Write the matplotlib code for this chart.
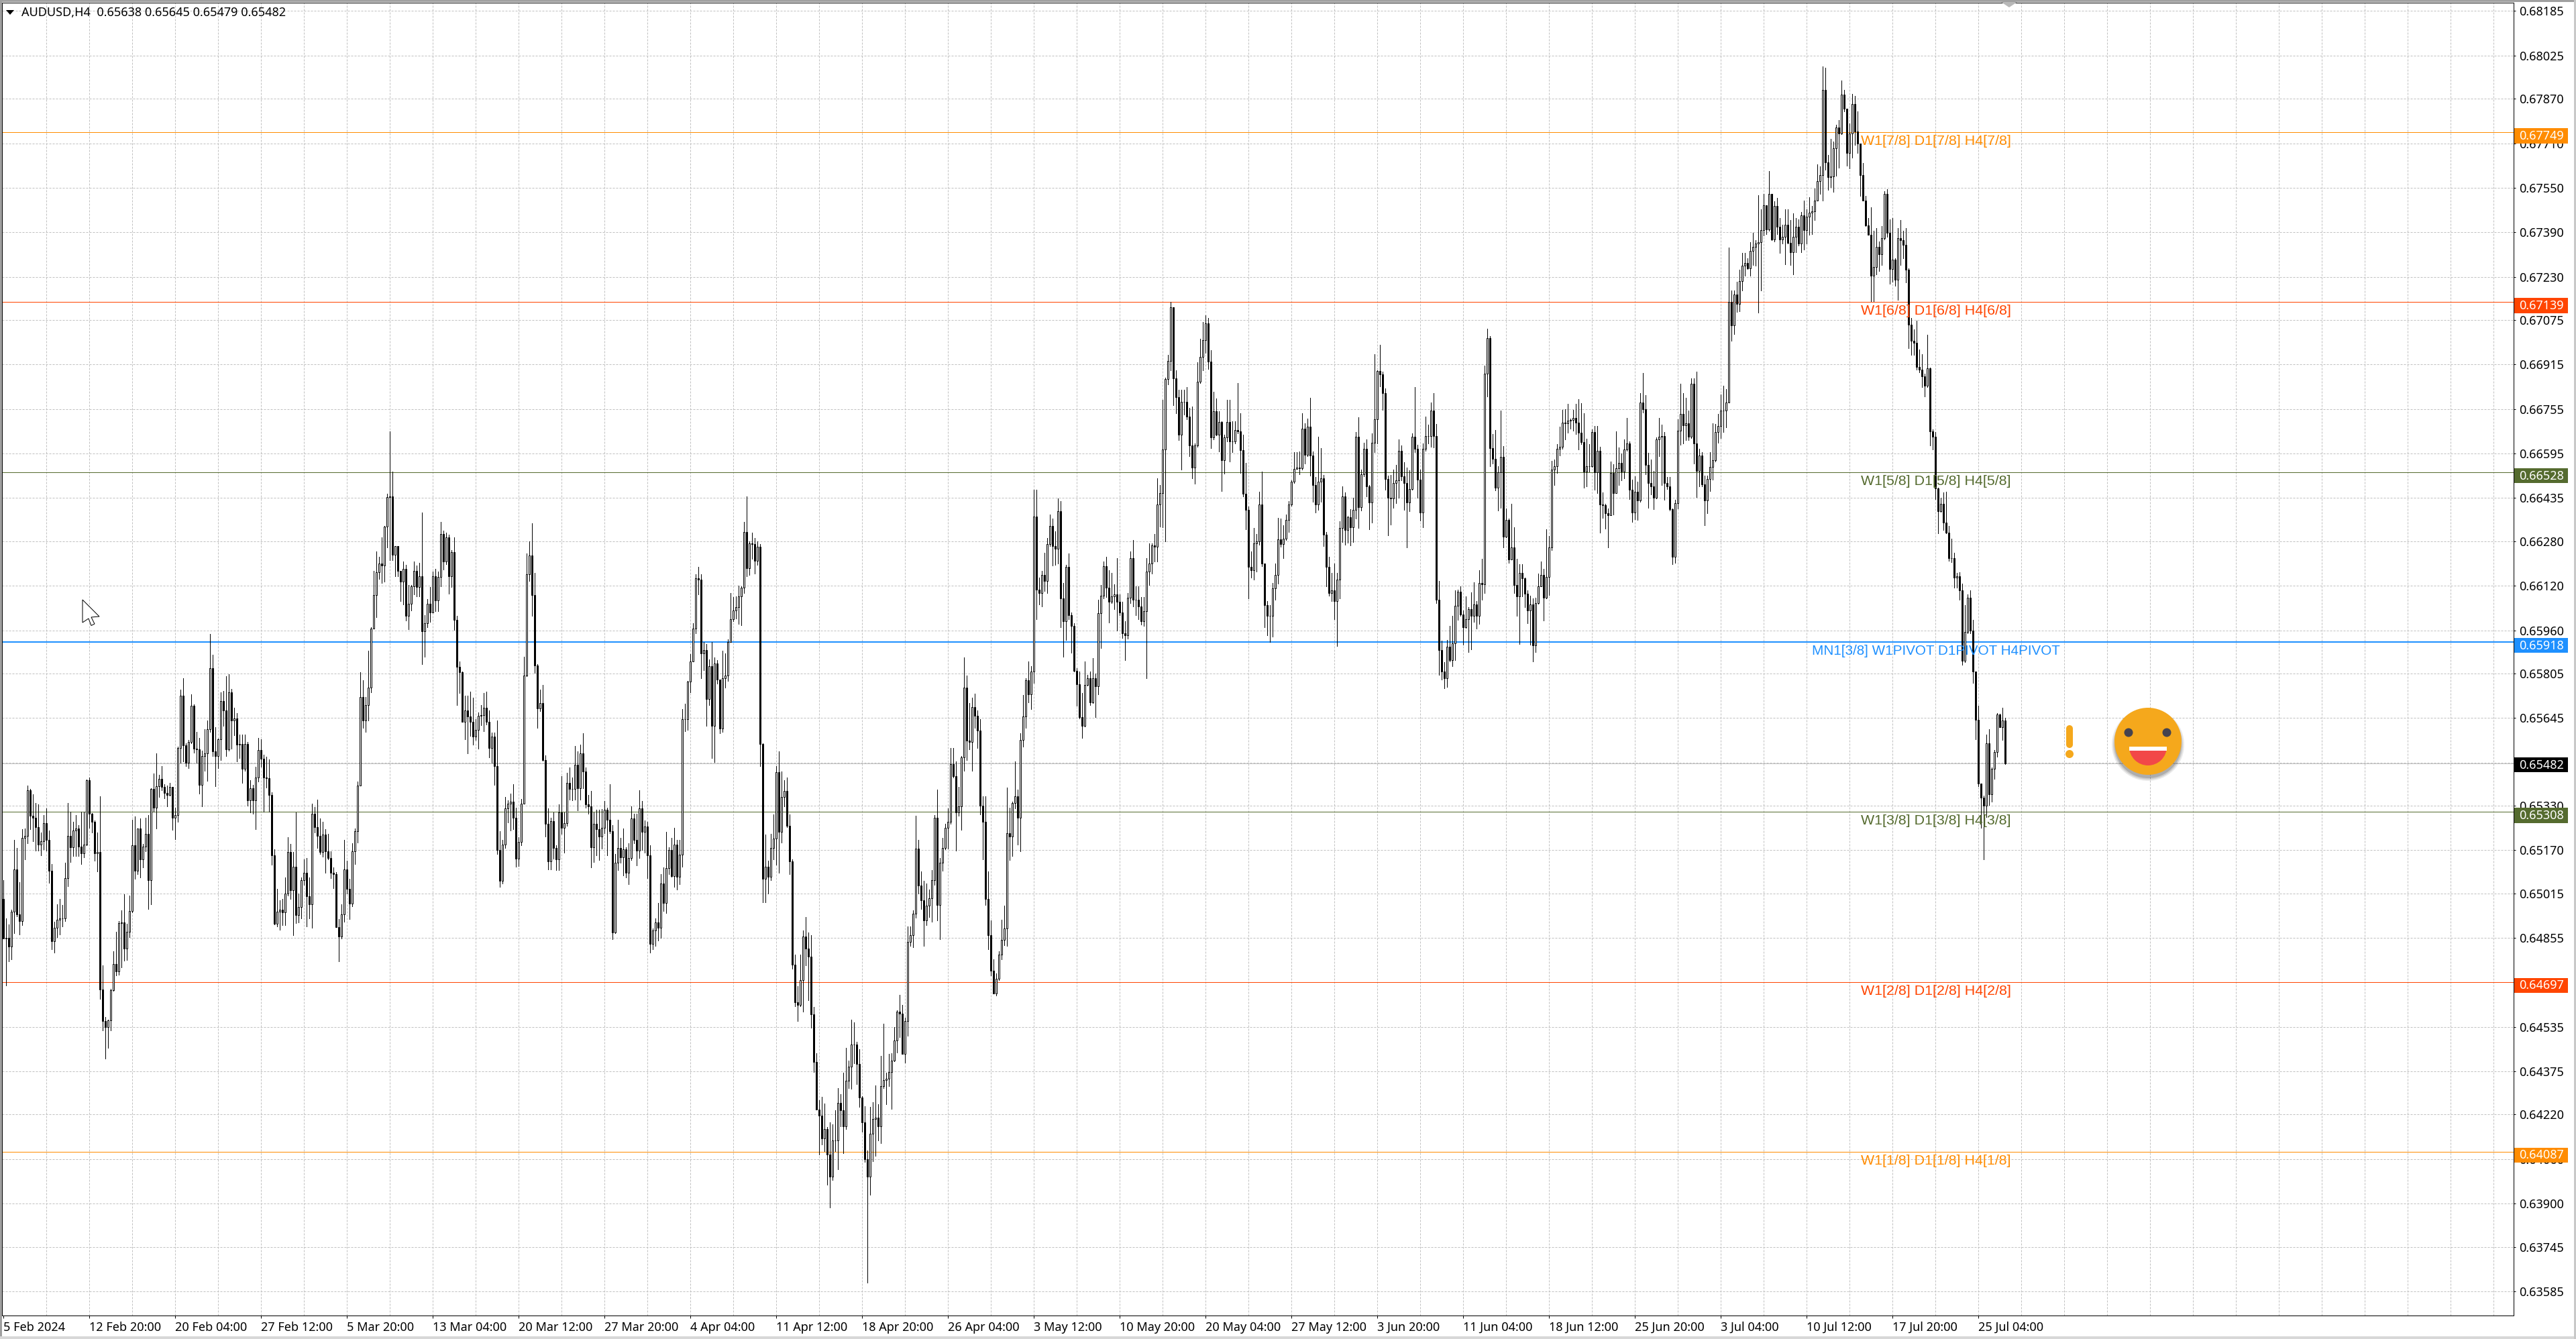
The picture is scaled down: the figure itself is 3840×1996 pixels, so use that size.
import matplotlib
matplotlib.use("Agg")
import numpy as np
import matplotlib.pyplot as plt
from matplotlib.patches import Rectangle, Circle, Polygon, Wedge

plt.rcParams['font.family'] = ['Noto Sans', 'DejaVu Sans']

# H4 closes, highs and lows in points (1e-5)
closes = [
    64853,64855,64823,64949,65100,64939,64915,65215,65222,65386,
    65294,65287,65252,65189,65203,65266,65206,65095,64842,64892,
    64919,64924,64926,65070,65221,65181,65240,65248,65182,65159,
    65190,65422,65302,65271,65159,65163,64670,64555,64534,64558,
    64667,64762,64735,64907,64910,64816,64876,64952,65187,65096,
    65247,65137,65182,65229,65062,65391,65323,65399,65426,65398,
    65375,65368,65398,65287,65296,65537,65724,65546,65485,65560,
    65689,65535,65532,65405,65508,65517,65605,65825,65524,65509,
    65568,65707,65673,65532,65736,65637,65642,65550,65551,65463,
    65552,65349,65393,65349,65430,65529,65499,65431,65428,65368,
    65151,64905,64949,64957,64947,65015,65163,65025,65111,64938,
    64965,65062,65090,65004,64976,65300,65253,65222,65163,65227,
    65166,65142,65088,65083,
    64894,64860,64939,65101,65031,64977,65165,65239,65401,65720,
    65637,65692,65755,65966,66087,66168,66201,66192,66332,66438,
    66442,66231,66262,66173,66136,66180,66011,66055,66119,66173,
    66116,66153,65956,65985,66055,66023,66153,66068,66151,66307,
    66208,66295,66153,66240,65998,65829,65810,65632,65672,65650,
    65630,65577,65602,65653,65656,65681,65632,65536,65577,65471,
    65171,65060,65190,65319,65337,65344,65287,65139,65200,65337,
    65797,66162,66230,66087,65834,65679,65698,65494,65264,65130,
    65274,65179,65137,65305,65251,65268,65411,65389,65389,65477,
    65392,65519,65452,65334,65328,65181,65264,65245,65220,65251,
    65315,65279,65239,64875,65126,65179,65145,65172,65088,65143,
    65283,65207,65168,65319,65236,65254,65152,64834,64881,64911,
    64890,65051,64981,65105,65171,
    65077,65189,65075,65154,65640,65640,65776,65847,65965,66148,
    66141,65876,65890,65712,65831,65616,65840,65782,65606,65788,
    65798,65917,66001,66031,66044,66081,66113,66314,66184,66272,
    66270,66209,66260,65551,65066,65111,65075,65179,65212,65450,
    65237,65361,65382,65257,65130,64758,
    64623,64615,64703,64859,64816,64788,64581,64408,64239,64217,
    64135,64167,64077,63996,64128,64127,64263,64235,64177,64341,
    64393,64471,64471,64402,64281,64193,64060,63996,64152,64205,
    64210,64177,64322,64344,64349,64372,64414,64486,64591,64582,
    64438,64555,64841,64865,64942,65175,65044,64991,64918,64970,
    64998,65062,65286,64974,65126,65179,65250,65271,65480,65435,
    65306,65327,65503,65755,65563,65558,65683,65653,65601,65329,
    65271,64995,64865,64736,64656,64709,64794,64847,64888,
    65231,65218,65339,65363,65287,65565,65651,65780,65730,65811,
    66369,66106,66095,66159,66138,66271,66336,66263,66252,66389,
    66074,65993,66187,66014,65977,65815,65767,65649,65617,65764,
    65788,65702,65788,65759,66022,66085,66190,66114,66063,66082,
    66090,66063,66025,65950,65941,66077,66219,66069,66069,66046,
    65993,66029,66171,66200,66264,66260,66413,66453,66610,66862,
    66927,67120,66865,66797,66663,66781,66780,66728,66623,66545,
    66623,66854,66943,67002,67064,66925,66652,66747,66663,66709,
    66571,66652,66709,66639,66639,66680,66676,66607,66450,66394,
    66187,66176,66273,66279,66411,66200,66050,66013,66013,66111,
    66159,66287,66271,66289,66357,66411,66494,66541,66544,66542,
    66684,66591,66692,66587,66482,66413,66494,66505,66303,66187,
    66095,66103,66066,66142,66327,
    66440,66320,66366,66329,66394,66655,66403,66520,66613,66477,
    66419,66635,66719,66891,66880,66813,66504,66437,66433,66490,
    66500,66604,66513,66489,66419,66467,66655,66612,66501,66383,
    66612,66659,66657,66749,66658,66071,65889,65812,65789,65902,
    65854,65912,66049,66098,66017,65971,65999,66036,66011,66054,
    66012,66129,66126,66881,67009,66615,66575,66472,66527,66583,
    66297,66356,66214,66258,66123,66083,66167,66147,66091,66032,
    66054,65906,66057,66119,66160,66077,66152,66257,66537,66549,
    66613,66620,66707,66704,66714,66715,66723,66707,66670,66636,
    66530,66549,66550,66672,66527,66606,66412,66409,66380,66373,
    66525,66454,66543,66562,66530,66610,66632,66466,66382,66458,
    66426,66779,66755,66555,66489,66478,66437,66647,66656,66658,
    66489,66477,66395,66225,66417,
    66678,66738,66696,66704,66655,66846,66632,66532,66589,66484,
    66427,66504,66547,66570,66673,66693,66750,66750,66778,67139,
    67055,67166,67132,67215,67269,67281,67261,67322,67338,67350,
    67355,67397,67488,67401,67527,67363,67485,67411,67365,67373,
    67417,67353,67319,67373,67409,67350,67451,67397,67445,67461,
    67465,67505,67575,67595,67902,67642,67588,67590,67692,67767,
    67744,67885,67835,67676,67746,67850,67753,67708,67596,67504,
    67415,67382,
    67235,67265,67338,67312,67369,67527,67389,67258,67292,67219,
    67370,67362,67345,67255,67058,67000,66993,66907,66896,66873,
    66838,66901,66676,66655,66469,66389,66415,66346,66312,66220,
    66220,66150,66155,66104,65851,65955,66078,65958,65812,65638,
    65409,65358,65330,65555,65372,65462,65522,65657,65613,65635,65482,
]
highs = [
    65062,64926,64903,64957,65208,65177,65056,65245,65248,65402,
    65391,65371,65339,65334,65234,65297,65320,65240,65119,64912,
    64975,64994,64973,65125,65339,65307,65271,65297,65260,65307,
    65307,65425,65431,65304,65276,65234,65363,64755,64570,64562,
    64672,64806,64876,64916,64954,65012,64905,65006,65279,65292,
    65247,65283,65192,65287,65297,65393,65445,65517,65441,65472,
    65407,65402,65412,65391,65323,65543,65747,65788,65553,65566,
    65729,65694,65595,65574,65527,65605,65635,65948,65872,65613,
    65572,65738,65741,65794,65802,65750,65681,65663,65585,65585,
    65585,65558,65422,65405,65469,65574,65569,65513,65506,65496,
    65379,65172,65032,64989,64994,65072,65217,65192,65163,65305,
    65015,65072,65138,65142,65072,65336,65325,65351,65284,65271,
    65245,65229,65166,65109,
    65092,64923,64975,65207,65133,65066,65194,65249,65417,65810,
    65781,65720,65886,65972,66173,66244,66224,66295,66336,66451,
    66674,66530,66262,66263,66173,66206,66196,66122,66122,66208,
    66192,66202,66384,66014,66072,66115,66170,66180,66170,66349,
    66317,66310,66304,66249,66295,66011,65849,65813,65724,65726,
    65739,65717,65640,65666,65692,65734,65739,65672,65593,65593,
    65637,65239,65207,65362,65350,65373,65408,65322,65216,65353,
    65866,66236,66279,66345,66166,65838,65746,65764,65510,65319,
    65286,65306,65188,65334,65436,65305,65449,65468,65430,65545,
    65526,65549,65590,65468,65369,65383,65305,65315,65315,65318,
    65347,65322,65407,65260,65156,65279,65213,65248,65181,65194,
    65328,65302,65302,65385,65347,65277,65271,65188,64888,64926,
    64981,65083,65108,65236,65181,
    65213,65250,65206,65206,65677,65696,65779,65874,65985,66161,
    66188,66161,65917,65911,65856,65917,65862,65853,65753,65886,
    65878,65927,66095,66079,66081,66120,66118,66350,66440,66280,
    66311,66292,66280,66270,65554,65225,65132,65228,65298,65472,
    65526,65453,65421,65431,65298,65136,
    64794,64681,64795,64881,64929,64875,64865,64606,64440,64271,
    64283,64259,64176,64193,64185,64235,64314,64293,64370,64459,
    64414,64561,64551,64482,64456,64285,64251,64090,64247,64265,
    64324,64257,64430,64546,64370,64438,64440,64534,64594,64651,
    64615,64569,64896,64896,64954,65293,65207,65093,65060,65050,
    65028,65099,65296,65388,65142,65213,65265,65320,65536,65536,
    65490,65397,65509,65862,65798,65698,65718,65733,65671,65640,
    65364,65364,65093,64917,64779,64728,64808,64921,64970,
    65396,65323,65344,65488,65388,65589,65727,65788,65848,65832,
    66466,66466,66150,66174,66239,66292,66377,66361,66316,66434,
    66424,66130,66195,66235,66025,65985,65824,65811,65735,65848,
    65799,65812,65859,65804,66071,66122,66208,66224,66176,66166,
    66126,66219,66090,66063,65993,66095,66243,66284,66118,66118,
    66079,66079,66219,66273,66273,66305,66507,66482,66788,66868,
    66949,67140,67120,66894,66825,66825,66825,66833,66760,66765,
    66631,66922,67007,67067,67091,67083,66967,66817,66793,66747,
    66712,66663,66788,66788,66712,66712,66849,66741,66663,66562,
    66405,66243,66327,66305,66457,66529,66200,66066,66050,66130,
    66200,66365,66361,66337,66376,66424,66499,66599,66599,66602,
    66739,66704,66720,66796,66602,66510,66655,66615,66518,66313,
    66224,66166,66200,66166,66353,
    66477,66455,66372,66396,66437,66673,66726,66537,66633,66647,
    66483,66668,66952,66895,66986,66889,66829,66515,66518,66537,
    66555,66645,66624,66564,66544,66535,66668,66834,66626,66538,
    66631,66728,66698,66778,66811,66701,66137,65923,65845,65925,
    65977,66013,66103,66106,66119,66031,66083,66043,66096,66132,
    66064,66177,66218,66912,67044,67018,66666,66680,66550,66749,
    66621,66398,66361,66414,66331,66218,66197,66197,66149,66103,
    66084,66075,66077,66163,66207,66181,66323,66299,66569,66573,
    66629,66691,66752,66755,66774,66721,66753,66774,66790,66776,
    66740,66649,66629,66681,66693,66693,66620,66455,66415,66398,
    66566,66557,66675,66617,66595,66647,66724,66638,66501,66514,
    66493,66812,66885,66806,66598,66574,66532,66652,66724,66700,
    66673,66511,66512,66398,66430,
    66719,66846,66812,66796,66750,66866,66866,66889,66612,66601,
    66516,66516,66601,66704,66701,66738,66807,66839,66827,67335,
    67181,67181,67212,67255,67315,67315,67296,67355,67388,67362,
    67523,67473,67528,67480,67610,67529,67501,67513,67441,67417,
    67473,67473,67433,67458,67441,67437,67464,67503,67473,67517,
    67485,67547,67634,67626,67986,67981,67668,67726,67716,67776,
    67792,67935,67901,67797,67780,67887,67879,67824,67709,67640,
    67520,67441,
    67481,67396,67404,67358,67412,67537,67544,67437,67442,67296,
    67404,67435,67396,67404,67261,67081,67042,67073,66969,66953,
    66881,67022,66904,66681,66673,66473,66435,66455,66458,66335,
    66289,66238,66166,66169,66127,66050,66089,66104,65997,65804,
    65689,65409,65365,65585,65605,65468,65529,65663,65661,65681,65645,
]
lows = [
    64853,64685,64771,64777,64873,64931,64866,64900,65137,65196,
    65245,65203,65168,65168,65151,65172,65168,65053,64813,64803,
    64858,64868,64897,64915,65041,65127,65148,65150,65148,65119,
    65145,65187,65250,65234,65132,65093,64635,64523,64422,64460,
    64523,64664,64719,64722,64748,64773,64775,64858,64947,65067,
    65085,65072,65107,65166,64959,64975,65307,65248,65360,65386,
    65357,65328,65365,65244,65210,65273,65485,65488,65472,65464,
    65555,65520,65485,65373,65328,65454,65419,65595,65509,65399,
    65464,65494,65616,65509,65527,65535,65582,65488,65501,65412,
    65454,65331,65306,65300,65245,65417,65470,65309,65394,65307,
    65118,64903,64897,64884,64900,64902,65007,64994,64865,64907,
    64910,64926,65046,64897,64926,64891,65234,65177,65156,65147,
    65088,65137,65070,65034,
    64894,64770,64852,64913,65015,64922,64968,65120,65198,65401,
    65609,65596,65637,65736,65966,66008,66145,66129,66136,66257,
    66211,66211,66155,66155,66064,66053,65995,65963,66032,66090,
    66081,66081,65838,65866,65970,65991,66023,66030,66030,66119,
    66179,66198,66091,66116,65962,65692,65734,65632,65568,65517,
    65581,65549,65566,65535,65618,65598,65621,65504,65484,65404,
    65156,65037,65051,65177,65270,65241,65245,65111,65114,65188,
    65341,65794,66138,66013,65806,65609,65670,65491,65219,65101,
    65101,65140,65098,65098,65228,65162,65258,65351,65350,65351,
    65313,65351,65392,65322,65300,65108,65128,65152,65134,65175,
    65232,65152,65232,64849,64871,65098,65126,65079,65073,65047,
    65134,65194,65115,65143,65171,65162,65069,64802,64815,64826,
    64846,64856,64951,64945,65085,
    65075,65038,65029,65047,65111,65597,65603,65736,65847,65950,
    66089,65788,65816,65616,65692,65501,65487,65769,65591,65595,
    65753,65778,65921,65993,66003,65982,65979,66095,66154,66159,
    66218,66165,66194,65472,64982,64982,65015,65062,65136,65118,
    65090,65197,65327,65253,65084,64745,
    64610,64557,64610,64590,64757,64631,64533,64372,64239,64076,
    64113,64088,63968,63886,63984,64088,64024,64177,64082,64168,
    64316,64312,64404,64330,64247,64159,64049,63616,63932,64053,
    64072,64127,64117,64316,64257,64322,64241,64412,64443,64499,
    64438,64406,64503,64826,64822,64927,65013,64958,64826,64900,
    64929,64912,65046,64917,64851,65097,65173,65175,65265,65431,
    65169,65293,65243,65456,65493,65532,65456,65610,65536,65298,
    65136,64972,64814,64721,64656,64648,64703,64779,64828,
    64827,65134,65150,65320,65190,65165,65541,65610,65702,65678,
    65772,66000,66053,66046,66101,66095,66263,66192,66195,66200,
    65972,65864,65924,66000,65880,65811,65690,65643,65573,65614,
    65762,65691,65698,65649,65730,65896,66074,66079,65988,66058,
    66037,65958,66014,65933,65853,65929,66058,66046,66014,66001,
    65980,65977,65788,66122,66163,66208,66208,66332,66329,66279,
    66844,66893,66768,66739,66644,66537,66736,66717,66586,66505,
    66486,66620,66849,66893,66957,66898,66615,66647,66660,66602,
    66461,66523,66639,66566,66599,66631,66667,66526,66440,66324,
    66074,66150,66143,66171,66268,66190,65972,65941,65917,65937,
    66069,66127,66260,66219,66284,66313,66408,66489,66541,66521,
    66537,66558,66586,66515,66421,66384,66392,66421,66263,66118,
    66085,66066,66001,65904,66074,
    66276,66267,66274,66264,66276,66361,66327,66391,66514,66440,
    66323,66348,66599,66631,66836,66751,66465,66301,66340,66400,
    66417,66435,66500,66394,66257,66387,66465,66601,66435,66354,
    66331,66604,66631,66620,66617,66057,65800,65783,65752,65757,
    65847,65831,65854,65997,66011,65909,65969,65881,65891,65990,
    65966,65983,66071,66094,66800,66550,66560,66463,66391,66400,
    66257,66295,66202,66215,66094,66011,65911,66083,66043,65985,
    65909,65849,65881,66055,66117,65995,66075,66086,66248,66481,
    66525,66589,66612,66647,66670,66684,66678,66666,66610,66629,
    66472,66477,66529,66548,66465,66454,66311,66363,66326,66257,
    66375,66375,66454,66481,66500,66507,66606,66432,66349,66359,
    66357,66421,66743,66521,66400,66449,66396,66433,66585,66481,
    66429,66467,66391,66198,66203,
    66397,66627,66632,66643,66643,66650,66558,66438,66478,66478,
    66338,66381,66461,66501,66566,66635,66650,66673,66689,66781,
    67000,67024,67104,67107,67181,67235,67258,67235,67273,67269,
    67101,67181,67379,67384,67396,67361,67358,67384,67316,67350,
    67276,67350,67273,67238,67319,67342,67319,67327,67350,67381,
    67384,67435,67503,67527,67504,67615,67543,67552,67536,67594,
    67622,67742,67824,67630,67620,67658,67705,67674,67521,67503,
    67413,67380,
    67142,67142,67238,67250,67273,67365,67373,67204,67212,67199,
    67147,67273,67296,67209,66973,66950,66950,66896,66886,66835,
    66799,66835,66623,66609,66432,66309,66386,66320,66309,66209,
    66204,66112,66112,66070,65835,65846,65950,65950,65771,65569,
    65400,65251,65137,65290,65332,65344,65427,65506,65611,65566,65479,
]
first_open = 64994

price_ticks = ['0.68185','0.68025','0.67870','0.67710','0.67550','0.67390','0.67230','0.67075',
               '0.66915','0.66755','0.66595','0.66435','0.66280','0.66120','0.65960','0.65805',
               '0.65645','0.65485','0.65330','0.65170','0.65015','0.64855','0.64695','0.64535',
               '0.64375','0.64220','0.64060','0.63900','0.63745','0.63585']
time_labels = ['5 Feb 2024','12 Feb 20:00','20 Feb 04:00','27 Feb 12:00','5 Mar 20:00','13 Mar 04:00',
               '20 Mar 12:00','27 Mar 20:00','4 Apr 04:00','11 Apr 12:00','18 Apr 20:00','26 Apr 04:00',
               '3 May 12:00','10 May 20:00','20 May 04:00','27 May 12:00','3 Jun 20:00','11 Jun 04:00',
               '18 Jun 12:00','25 Jun 20:00','3 Jul 04:00','10 Jul 12:00','17 Jul 20:00','25 Jul 04:00']

level_prices = [0.67749, 0.67139, 0.66528, 0.65918, 0.65308, 0.64697, 0.64087]
level_colors = ['#FF8C00', '#FF4500', '#556B2F', '#1E90FF', '#556B2F', '#FF4500', '#FF8C00']
level_texts = ['W1[7/8] D1[7/8] H4[7/8]', 'W1[6/8] D1[6/8] H4[6/8]', 'W1[5/8] D1[5/8] H4[5/8]',
               'MN1[3/8] W1PIVOT D1PIVOT H4PIVOT', 'W1[3/8] D1[3/8] H4[3/8]',
               'W1[2/8] D1[2/8] H4[2/8]', 'W1[1/8] D1[1/8] H4[1/8]']
last_price = 0.65482

Y_TOP, Y_BOTTOM = 0.68215, 0.63498
PX = 1 / 100 * 72  # points per pixel at dpi 100

n = min(len(closes), len(highs), len(lows))
c = np.array(closes[:n]) / 1e5
h = np.array(highs[:n]) / 1e5
l = np.array(lows[:n]) / 1e5
o = np.r_[first_open / 1e5, c[:-1]]
x = np.arange(n)

fig = plt.figure(figsize=(38.4, 19.96), dpi=100, facecolor='white')
ax = fig.add_axes([3 / 3840, 35 / 1996, 3744 / 3840, 1957 / 1996])
ax.set_xlim(-0.575, 935.425)
ax.set_ylim(Y_BOTTOM, Y_TOP)

# dashed chart grid
for i in range(16, 936, 16):
    ax.axvline(i, color='#C0C0C0', lw=PX, ls=(0, (3, 2)), zorder=1)
for t in price_ticks:
    ax.axhline(float(t), color='#C0C0C0', lw=PX, ls=(0, (3, 2)), zorder=1)

# level lines
for p, col in zip(level_prices, level_colors):
    ax.axhline(p, color=col, lw=2 * PX if col == '#1E90FF' else PX, zorder=2)
ax.axhline(last_price, color='#C0C0C0', lw=PX, zorder=2)

# candles
ax.vlines(x, l, h, color='black', lw=PX, zorder=3, antialiased=False)
up = c >= o
ax.bar(x[up], (c - o)[up], bottom=o[up], width=0.5, color='white', edgecolor='black', lw=PX, zorder=4)
ax.bar(x[~up], (c - o)[~up], bottom=o[~up], width=0.5, color='black', edgecolor='black', lw=PX, zorder=4)

# level captions, the long pivot one runs a little narrower in the screenshot
for p, col, txt in zip(level_prices, level_colors, level_texts):
    pivot = 'PIVOT' in txt
    ax.annotate(txt, (674 if pivot else 692.3, p), xytext=(0, -13.5 * PX), textcoords='offset points',
                color=col, family=['Liberation Sans'], fontsize=14.9 if pivot else 15.4,
                va='center', ha='left', zorder=5)

ax.set_yticks([float(t) for t in price_ticks])
ax.set_yticklabels(price_ticks)
ax.yaxis.tick_right()
ax.tick_params(axis='y', length=3 * PX, width=PX, pad=5 * PX, labelsize=13)
ax.set_xticks(np.arange(len(time_labels)) * 32)
ax.set_xticklabels(time_labels, ha='left')
ax.tick_params(axis='x', length=4 * PX, width=PX, pad=5 * PX, labelsize=13)
for s in ax.spines.values():
    s.set_linewidth(PX)

# overlay in screen pixels: window edges, price tags, title and chart objects
fx = fig.add_axes([0, 0, 1, 1], zorder=5)
fx.set_xlim(0, 3840)
fx.set_ylim(1996, 0)
fx.axis('off')
fx.patch.set_alpha(0)

fx.add_patch(Rectangle((0, 0), 3840, 3, color='#A0A0A0', lw=0))
fx.add_patch(Rectangle((0, 0), 2.5, 1996, color='#A0A0A0', lw=0))
fx.add_patch(Rectangle((0, 1992), 3840, 4, color='#D8D8D8', lw=0))
fx.add_patch(Rectangle((3837, 0), 3, 1996, color='#C8C8C8', lw=0))
fx.add_patch(Polygon([(2983, 3), (3007, 3), (2995, 11)], color='#B8B8B8', lw=0))


def price_y(p):
    return 4 + (Y_TOP - p) / (Y_TOP - Y_BOTTOM) * 1957


for p, col in zip(level_prices, level_colors):
    y = price_y(p)
    fx.add_patch(Rectangle((3748, y - 6), 80, 22.5, color=col, lw=0))
    fx.text(3755, y + 5.8, f'{p:.5f}', color='white', fontsize=13, va='center', ha='left')
# the last price tag sits a bit higher against its line
y = price_y(last_price)
fx.add_patch(Rectangle((3748, y - 9), 80, 22.5, color='black', lw=0))
fx.text(3755, y + 2.8, f'{last_price:.5f}', color='white', fontsize=13, va='center', ha='left')

fx.add_patch(Polygon([(9, 15), (21, 15), (15, 22)], color='black', lw=0))
fx.text(32, 19, 'AUDUSD,H4  0.65638 0.65645 0.65479 0.65482', fontsize=13, va='center', ha='left')

# mouse cursor
fx.add_patch(Polygon([(123, 894), (123, 928), (132, 922), (136, 932.5), (141, 930), (136, 920), (148, 919)],
                     closed=True, facecolor='white', edgecolor='black', lw=PX))

# exclamation mark
fx.add_patch(Rectangle((3080, 1086), 10, 24, color='#F5A81C', lw=0))
fx.add_patch(Circle((3085, 1086), 5, color='#F5A81C', lw=0))
fx.add_patch(Circle((3085, 1110), 5, color='#F5A81C', lw=0))
fx.add_patch(Circle((3085, 1124), 6, color='#F5A81C', lw=0))

# smiley
for r, a in zip([54, 52, 50], [0.12, 0.18, 0.25]):
    fx.add_patch(Circle((3202, 1110), r, color='#505050', alpha=a, lw=0))
fx.add_patch(Circle((3202, 1105), 50, color='#F5A81C', lw=0))
fx.add_patch(Circle((3173, 1092), 6.5, color='#45434F', lw=0))
fx.add_patch(Circle((3230, 1092), 6.5, color='#45434F', lw=0))
fx.add_patch(Wedge((3202, 1113), 28, 0, 180, color='#F24848', lw=0))
fx.add_patch(Rectangle((3174, 1113), 56, 6, color='white', lw=0))

fig.savefig('out.png', dpi=100, facecolor='white')
